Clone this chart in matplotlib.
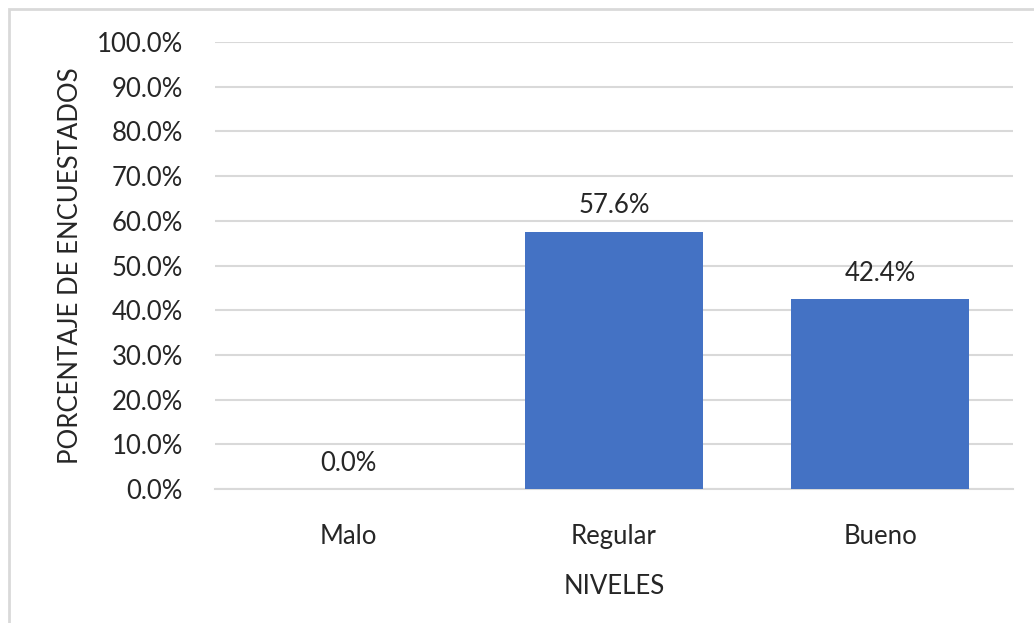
import matplotlib.pyplot as plt
from matplotlib.patches import Rectangle

categorias = ["Malo", "Regular", "Bueno"]
porcentajes = [0.0, 57.6, 42.4]
ticks_y = [0, 10, 20, 30, 40, 50, 60, 70, 80, 90, 100]

plt.rcParams['font.family'] = ['Lato', 'DejaVu Sans']

fig = plt.figure(figsize=(10.34, 6.23), dpi=100)
ax = fig.add_axes([215 / 1034, 1 - 489 / 623, 798 / 1034, 447 / 623])

# marco gris del grafico
fig.patches.append(Rectangle((9 / 1034, -0.1), 1.2, 1 - 9 / 623 + 0.1,
                             transform=fig.transFigure, fill=False,
                             edgecolor="#d9d9d9", linewidth=2))

x = range(len(categorias))
ax.bar(x, porcentajes, width=0.67, color="#4472C4", zorder=3)
for xi, v in zip(x, porcentajes):
    ax.text(xi, v + 3, f"{v:.1f}%", ha="center", va="bottom",
            fontsize=18.5, color="#262626")

ax.set_xlim(-0.5, 2.5)
ax.set_ylim(0, 100)
ax.set_yticks(ticks_y)
ax.set_yticklabels([f"{t:.1f}%" for t in ticks_y])
ax.set_xticks(list(x))
ax.set_xticklabels(categorias)
ax.tick_params(axis="both", length=0, labelsize=18.5, colors="#262626")
ax.tick_params(axis="y", pad=23)
ax.tick_params(axis="x", pad=25)
ax.grid(axis="y", color="#d9d9d9", linewidth=1.5, zorder=0)
for s in ["top", "right", "left"]:
    ax.spines[s].set_visible(False)
ax.spines["bottom"].set_color("#d9d9d9")
ax.spines["bottom"].set_linewidth(1.5)

ax.set_xlabel("NIVELES", fontsize=18.5, color="#262626", labelpad=18)
ax.set_ylabel("PORCENTAJE DE ENCUESTADOS", fontsize=18.5, color="#262626", labelpad=10)

fig.savefig("out.png", dpi=100)
